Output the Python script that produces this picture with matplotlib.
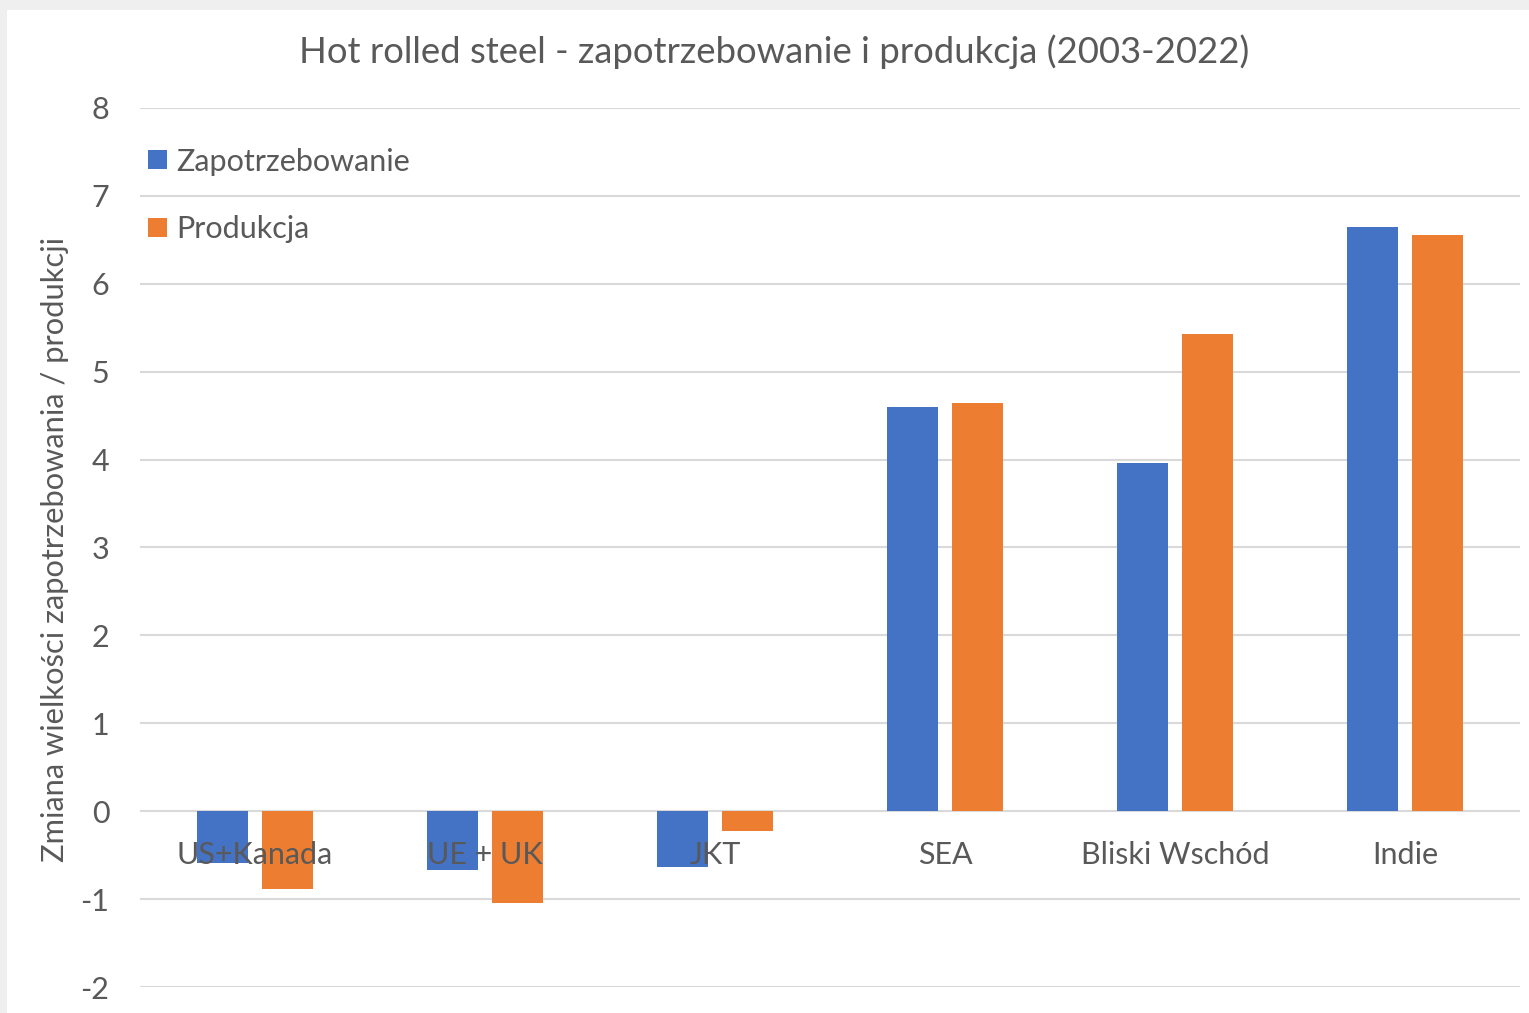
import matplotlib
matplotlib.use("Agg")
import matplotlib.pyplot as plt
from matplotlib.patches import Rectangle
import numpy as np

categories = ["US+Kanada", "UE + UK", "JKT", "SEA", "Bliski Wschód", "Indie"]
zapotrzebowanie = [-0.59, -0.67, -0.64, 4.60, 3.96, 6.65]
produkcja = [-0.88, -1.05, -0.23, 4.64, 5.43, 6.56]
series_names = ["Zapotrzebowanie", "Produkcja"]
yticks = [-2, -1, 0, 1, 2, 3, 4, 5, 6, 7, 8]

BLUE = "#4472C4"
ORANGE = "#ED7D31"
TXT = "#595959"
FONT = "Lato"

W, H = 1529, 1013
fig = plt.figure(figsize=(W / 100, H / 100), dpi=100, facecolor="#efefef")
fig.patches.append(Rectangle((7 / W, 0), 1 - 7 / W, 1 - 10 / H, transform=fig.transFigure,
                             facecolor="white", edgecolor="none", zorder=-5))

ax = fig.add_axes([140 / W, 1 - 987 / H, 1380 / W, 879 / H])
ax.set_facecolor("none")
x = np.arange(len(categories))
bw = 0.222
off = 0.141
ax.bar(x - off, zapotrzebowanie, bw, color=BLUE, label=series_names[0], zorder=2)
ax.bar(x + off, produkcja, bw, color=ORANGE, label=series_names[1], zorder=2)

ax.set_xlim(-0.5, len(categories) - 0.5)
ax.set_ylim(-2, 8)
ax.set_yticks(yticks)
ax.set_yticklabels([str(t) for t in yticks], fontsize=22, color=TXT, family=FONT)
ax.tick_params(axis="y", length=0, pad=22)
ax.set_xticks([])
for s in ax.spines.values():
    s.set_visible(False)
ax.grid(axis="y", color="#d9d9d9", linewidth=1.5, zorder=0)
ax.set_axisbelow(True)

for i, c in enumerate(categories):
    ax.text(i, -0.5, c, ha="center", va="center", fontsize=22, color=TXT, family=FONT, zorder=5)

leg = ax.legend(loc="upper left", bbox_to_anchor=(0.006, 0.955), frameon=False,
                prop={"family": FONT, "size": 22}, handlelength=0.6, handleheight=0.6,
                handletextpad=0.3, labelspacing=1.3, borderaxespad=0, borderpad=0)
for t in leg.get_texts():
    t.set_color(TXT)

fig.text(774.5 / W, 1 - 52 / H, "Hot rolled steel - zapotrzebowanie i produkcja (2003-2022)",
         ha="center", va="center", fontsize=26.3, color=TXT, family=FONT)
fig.text(55 / W, 1 - 549 / H, "Zmiana wielkości zapotrzebowania / produkcji",
         ha="center", va="center", rotation=90, fontsize=22.2, color=TXT, family=FONT)

fig.savefig("out.png", dpi=100, facecolor=fig.get_facecolor())
